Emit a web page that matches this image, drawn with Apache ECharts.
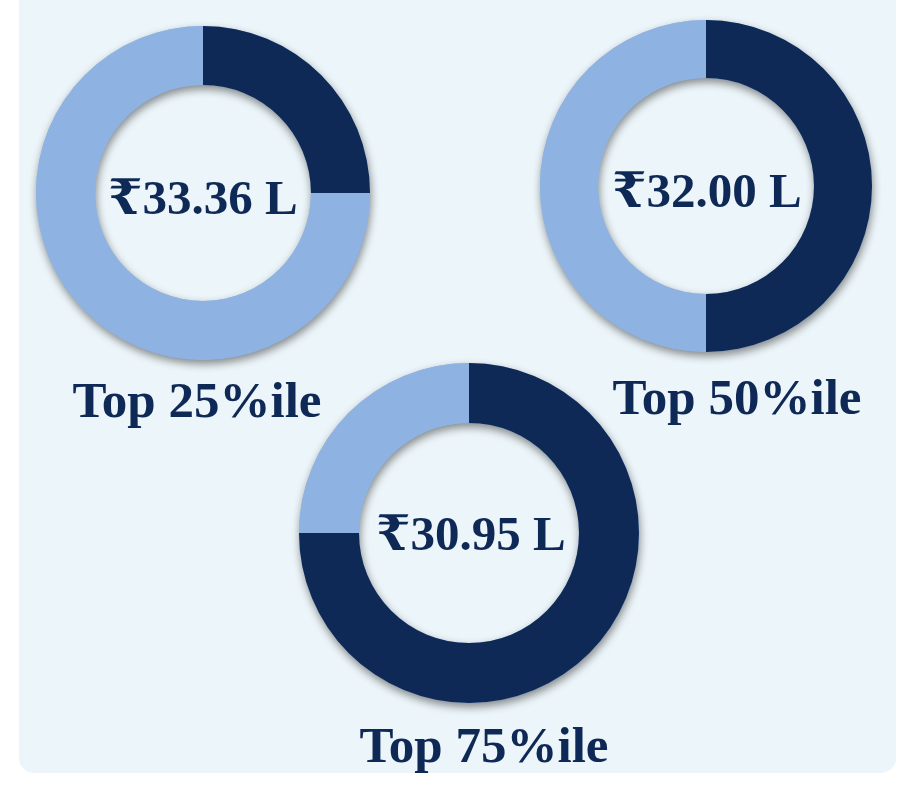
<!DOCTYPE html>
<html>
<head>
<meta charset="utf-8">
<script src="https://cdn.jsdelivr.net/npm/echarts@6/dist/echarts.min.js"></script>
<style>
  html, body { margin: 0; padding: 0; background: #ffffff; }
  #chart { width: 904px; height: 788px; }
</style>
</head>
<body>
<div id="chart"></div>
<script>
// percentile rings: dark share vs light remainder
const percentileLabels = ['Top 25%ile', 'Top 50%ile', 'Top 75%ile']
const amountLabels = ['₹33.36 L', '₹32.00 L', '₹30.95 L']
const darkShare = [25, 50, 75]
const lightShare = [75, 50, 25]

const DARK = '#0F2956'
const LIGHT = '#8EB3E2'
const PANEL = '#ECF5F9'
const FONT = '"Liberation Serif", "DejaVu Serif", serif'

// ring layout (center, radii) and text anchors
const rings = [
  { center: [203, 193], radius: [108, 167], amountAt: [203, 201], labelAt: [197, 404] },
  { center: [706, 186], radius: [108, 166], amountAt: [707, 194], labelAt: [737, 401] },
  { center: [469, 533], radius: [110, 170], amountAt: [471, 537], labelAt: [484, 749] }
]

const chart = echarts.init(document.getElementById('chart'))

const series = []
rings.forEach((ring, i) => {
  // full ring underneath that only carries the drop shadow
  series.push({
    type: 'pie',
    silent: true,
    center: ring.center,
    radius: ring.radius,
    startAngle: 90,
    label: { show: false },
    labelLine: { show: false },
    itemStyle: {
      color: LIGHT,
      shadowBlur: 9,
      shadowOffsetX: 1,
      shadowOffsetY: 4,
      shadowColor: 'rgba(0, 0, 0, 0.45)'
    },
    data: [{ value: darkShare[i] + lightShare[i] }]
  })
  series.push({
    type: 'pie',
    silent: true,
    center: ring.center,
    radius: ring.radius,
    startAngle: 90,
    clockwise: true,
    label: { show: false },
    labelLine: { show: false },
    emphasis: { disabled: true },
    data: [
      { name: 'dark', value: darkShare[i], itemStyle: { color: DARK } },
      { name: 'light', value: lightShare[i], itemStyle: { color: LIGHT } }
    ]
  })
})

const texts = []
rings.forEach((ring, i) => {
  texts.push({
    type: 'text',
    x: ring.amountAt[0],
    y: ring.amountAt[1],
    z: 10,
    style: {
      text: amountLabels[i],
      fill: DARK,
      font: 'bold 49px ' + FONT,
      textAlign: 'center',
      textVerticalAlign: 'middle'
    }
  })
  texts.push({
    type: 'text',
    x: ring.labelAt[0],
    y: ring.labelAt[1],
    z: 10,
    style: {
      text: percentileLabels[i],
      fill: DARK,
      font: 'bold 51px ' + FONT,
      textAlign: 'center',
      textVerticalAlign: 'middle'
    }
  })
})

chart.setOption({
  animation: false,
  backgroundColor: '#ffffff',
  graphic: [
    {
      type: 'rect',
      z: -10,
      silent: true,
      shape: { x: 19, y: -20, width: 877, height: 793, r: 15 },
      style: { fill: PANEL }
    },
    ...texts
  ],
  series
})

window.addEventListener('resize', () => chart.resize())
</script>
</body>
</html>
